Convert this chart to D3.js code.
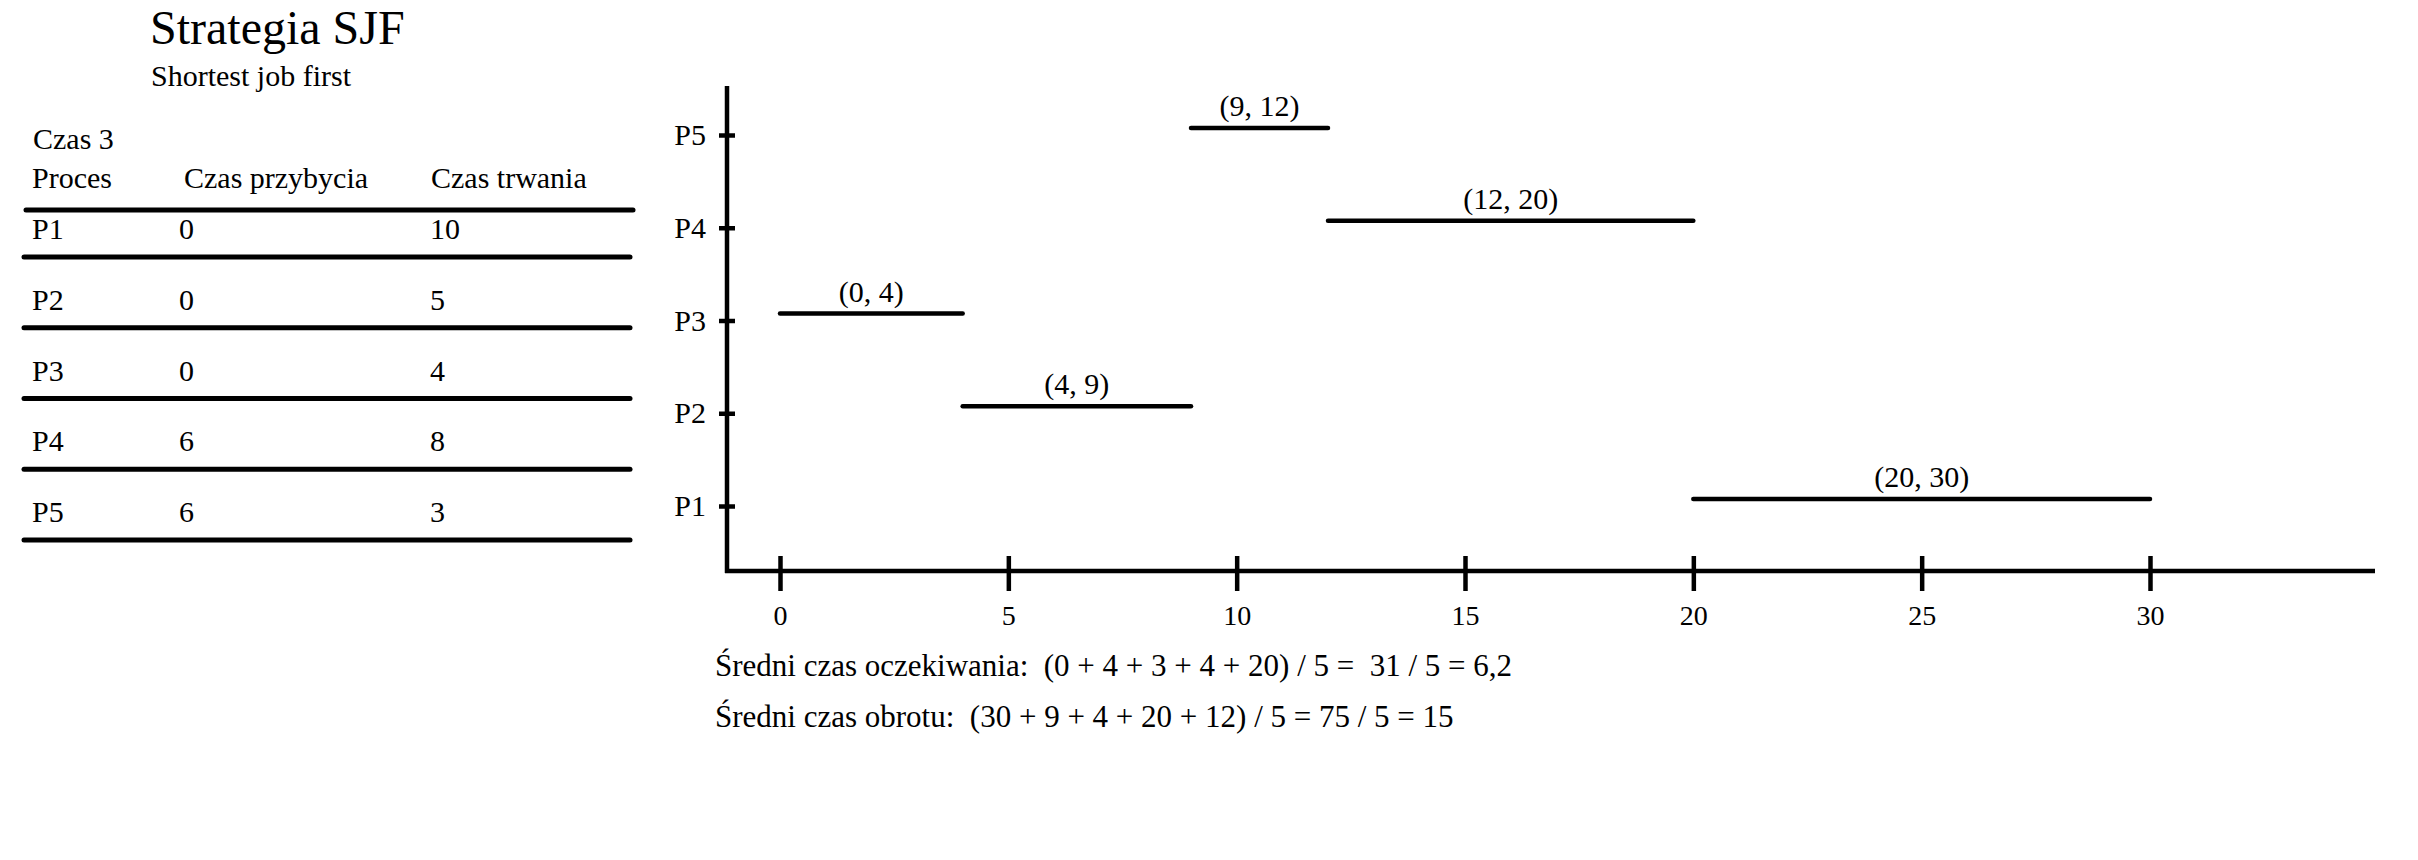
<!DOCTYPE html>
<html>
<head>
<meta charset="utf-8">
<script src="https://cdn.jsdelivr.net/npm/d3@7"></script>
<style>
  html, body { margin: 0; padding: 0; background: #fff; }
  svg { display: block; }
  text { font-family: "Liberation Serif", "Times New Roman", serif; fill: #000; }
</style>
</head>
<body>
<svg id="chart" width="2418" height="860"></svg>
<script>
// ---- data ----
const processes = ["P1", "P2", "P3", "P4", "P5"];
const arrivalTimes = [0, 0, 0, 6, 6];
const burstTimes = [10, 5, 4, 8, 3];
const startTimes = [20, 4, 0, 12, 9];
const endTimes = [30, 9, 4, 20, 12];
const xTickValues = [0, 5, 10, 15, 20, 25, 30];
const titleText = "Strategia SJF";
const subtitleText = "Shortest job first";
const tableCaption = "Czas 3";
const tableHeaders = ["Proces", "Czas przybycia", "Czas trwania"];
const summaryLines = [
  "Średni czas oczekiwania:\u00a0 (0 + 4 + 3 + 4 + 20) / 5 =\u00a0 31 / 5 = 6,2",
  "Średni czas obrotu:\u00a0 (30 + 9 + 4 + 20 + 12) / 5 = 75 / 5 = 15"
];

// ---- layout ----
const svg = d3.select("#chart");
svg.append("rect").attr("width", 2418).attr("height", 860).attr("fill", "#fff");

const axisX = 727, axisY = 571;
const x = d3.scaleLinear().domain([0, 30]).range([780, 2150]);
const y = d3.scalePoint().domain(processes).range([506, 135]);

// title
svg.append("text").attr("x", 150).attr("y", 44).attr("font-size", 48).text(titleText);
svg.append("text").attr("x", 151).attr("y", 86).attr("font-size", 30).text(subtitleText);

// ---- table ----
const tableFont = 30;
svg.append("text").attr("x", 33).attr("y", 149).attr("font-size", tableFont).text(tableCaption);
const headerX = [32, 184, 431];
tableHeaders.forEach((h, i) => {
  svg.append("text").attr("x", headerX[i]).attr("y", 188).attr("font-size", tableFont).text(h);
});
svg.append("line").attr("x1", 26).attr("x2", 633).attr("y1", 210).attr("y2", 210)
  .attr("stroke", "#000").attr("stroke-width", 5).attr("stroke-linecap", "round");

const rowBand = d3.scaleBand().domain(processes).range([186.25, 540]);
const rows = svg.append("g").selectAll("g").data(processes).join("g");
rows.append("text").attr("x", 32).attr("y", d => rowBand(d) + rowBand.step() - 18)
  .attr("font-size", tableFont).text(d => d);
rows.append("text").attr("x", 179).attr("y", d => rowBand(d) + rowBand.step() - 18)
  .attr("font-size", tableFont).text((d, i) => arrivalTimes[i]);
rows.append("text").attr("x", 430).attr("y", d => rowBand(d) + rowBand.step() - 18)
  .attr("font-size", tableFont).text((d, i) => burstTimes[i]);
rows.append("line").attr("x1", 24).attr("x2", 630)
  .attr("y1", d => rowBand(d) + rowBand.step()).attr("y2", d => rowBand(d) + rowBand.step())
  .attr("stroke", "#000").attr("stroke-width", 5).attr("stroke-linecap", "round");

// ---- axes ----
svg.append("line").attr("x1", axisX).attr("x2", axisX).attr("y1", 86).attr("y2", axisY + 2)
  .attr("stroke", "#000").attr("stroke-width", 4.5);
svg.append("line").attr("x1", axisX - 2).attr("x2", 2375).attr("y1", axisY).attr("y2", axisY)
  .attr("stroke", "#000").attr("stroke-width", 4.5);

const gx = svg.append("g").attr("transform", `translate(0,${axisY})`)
  .call(d3.axisBottom(x).tickValues(xTickValues).tickSize(0).tickFormat(d3.format("d")));
gx.select(".domain").remove();
gx.attr("font-family", null).attr("font-size", null);
gx.selectAll(".tick line").attr("y1", -15).attr("y2", 20)
  .attr("stroke", "#000").attr("stroke-width", 4.5);
gx.selectAll(".tick text").attr("y", 54).attr("dy", 0).attr("font-size", 28).attr("fill", "#000");

const gy = svg.append("g").attr("transform", `translate(${axisX},0)`)
  .call(d3.axisLeft(y).tickSize(0));
gy.select(".domain").remove();
gy.attr("font-family", null).attr("font-size", null);
gy.selectAll(".tick line").attr("x1", -8).attr("x2", 8)
  .attr("stroke", "#000").attr("stroke-width", 4.5);
gy.selectAll(".tick text").attr("x", -21).attr("dy", "0.32em").attr("font-size", 30).attr("fill", "#000");

// ---- bars (execution intervals) ----
const barOffset = -7;
const bars = svg.append("g").selectAll("g").data(processes).join("g");
bars.append("line")
  .attr("x1", (d, i) => x(startTimes[i])).attr("x2", (d, i) => x(endTimes[i]))
  .attr("y1", d => y(d) + barOffset).attr("y2", d => y(d) + barOffset)
  .attr("stroke", "#000").attr("stroke-width", 4.5).attr("stroke-linecap", "round");
bars.append("text")
  .attr("x", (d, i) => (x(startTimes[i]) + x(endTimes[i])) / 2)
  .attr("y", d => y(d) + barOffset - 12)
  .attr("text-anchor", "middle").attr("font-size", 30)
  .text((d, i) => `(${startTimes[i]}, ${endTimes[i]})`);

// ---- summary ----
summaryLines.forEach((t, i) => {
  svg.append("text").attr("x", 715).attr("y", 676 + i * 51).attr("font-size", 31).text(t);
});
</script>
</body>
</html>
